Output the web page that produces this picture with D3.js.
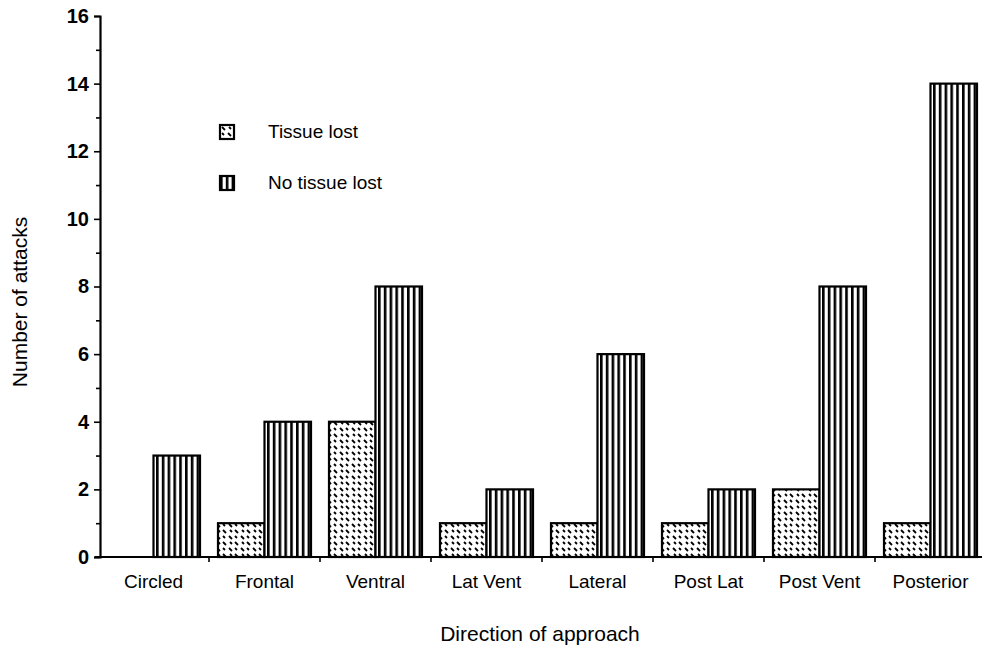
<!DOCTYPE html>
<html>
<head>
<meta charset="utf-8">
<script src="https://cdn.jsdelivr.net/npm/d3@7"></script>
<style>
  body { margin: 0; background: #fff; }
  svg { font-family: "Liberation Sans", Arial, sans-serif; }
</style>
</head>
<body>
<svg id="chart" width="982" height="647"></svg>
<script>
// data
var categories = ["Circled", "Frontal", "Ventral", "Lat Vent", "Lateral", "Post Lat", "Post Vent", "Posterior"];
var series = ["Tissue lost", "No tissue lost"];
var tissueLost = [0, 1, 4, 1, 1, 1, 2, 1];
var noTissueLost = [3, 4, 8, 2, 6, 2, 8, 14];
var yTicks = [0, 2, 4, 6, 8, 10, 12, 14, 16];
var yMinorTicks = [1, 3, 5, 7, 9, 11, 13, 15];

var svg = d3.select("#chart");

var x = d3.scaleBand()
    .domain(categories)
    .range([98, 986]);

var xSub = d3.scaleBand()
    .domain(series)
    .range([9, x.bandwidth() - 9]);

var y = d3.scaleLinear()
    .domain([0, 16])
    .range([557, 16]);

// patterns
var defs = svg.append("defs");

var vert = defs.append("pattern")
    .attr("id", "vlines")
    .attr("patternUnits", "userSpaceOnUse")
    .attr("width", 5.8)
    .attr("height", 10);
vert.append("rect").attr("width", 5.8).attr("height", 10).attr("fill", "#fff");
vert.append("rect").attr("x", 0).attr("width", 2.6).attr("height", 10).attr("fill", "#000");

var dash = defs.append("pattern")
    .attr("id", "dashes")
    .attr("patternUnits", "userSpaceOnUse")
    .attr("width", 12)
    .attr("height", 12);
dash.append("rect").attr("width", 12).attr("height", 12).attr("fill", "#fff");
dash.append("path")
    .attr("d", "M2,2L5,5M8,8L11,11M9,2L11,4M2,8L4,10")
    .attr("stroke", "#000")
    .attr("stroke-width", 1.8)
    .attr("stroke-linecap", "butt");

var fills = { "Tissue lost": "url(#dashes)", "No tissue lost": "url(#vlines)" };

// bars
var rows = categories.map(function(c, i) {
    return { cat: c, values: [
        { key: "Tissue lost", value: tissueLost[i] },
        { key: "No tissue lost", value: noTissueLost[i] }
    ] };
});

svg.append("g")
    .selectAll("g")
    .data(rows)
    .enter()
    .append("g")
    .attr("transform", function(d) { return "translate(" + x(d.cat) + ",0)"; })
    .selectAll("rect")
    .data(function(d) { return d.values.filter(function(v) { return v.value > 0; }); })
    .enter()
    .append("rect")
    .attr("x", function(d) { return xSub(d.key); })
    .attr("y", function(d) { return y(d.value); })
    .attr("width", xSub.bandwidth())
    .attr("height", function(d) { return y(0) - y(d.value); })
    .attr("fill", function(d) { return fills[d.key]; })
    .attr("stroke", "#000")
    .attr("stroke-width", 2.2);

// y axis
var yAxis = svg.append("g")
    .attr("transform", "translate(100,0)")
    .call(d3.axisLeft(y).tickValues(yTicks).tickSize(6).tickPadding(5));

svg.append("g")
    .attr("transform", "translate(100,0)")
    .call(d3.axisLeft(y).tickValues(yMinorTicks).tickSize(4).tickFormat(""))
    .select(".domain").remove();

yAxis.selectAll("text")
    .style("font-size", "20px")
    .style("font-weight", "bold")
    .attr("fill", "#000");

svg.selectAll(".tick line").attr("stroke", "#000").attr("stroke-width", 1.6);
yAxis.select(".domain").attr("stroke", "#000").attr("stroke-width", 2.2);

// x axis
var xAxis = svg.append("g")
    .attr("transform", "translate(0," + y(0) + ")")
    .call(d3.axisBottom(x).tickSize(0).tickPadding(18));

xAxis.select(".domain").attr("d", "M95,0H982").attr("stroke", "#000").attr("stroke-width", 2.2);
xAxis.selectAll("text").style("font-size", "19px").attr("fill", "#000");

xAxis.selectAll(".boundary")
    .data(categories.slice(1))
    .enter()
    .append("line")
    .attr("class", "boundary")
    .attr("x1", function(d) { return x(d); })
    .attr("x2", function(d) { return x(d); })
    .attr("y1", 0)
    .attr("y2", 5)
    .attr("stroke", "#000")
    .attr("stroke-width", 1.6);

// axis titles
svg.append("text")
    .attr("x", 540)
    .attr("y", 641)
    .attr("text-anchor", "middle")
    .style("font-size", "21px")
    .text("Direction of approach");

svg.append("text")
    .attr("transform", "translate(27,302) rotate(-90)")
    .attr("text-anchor", "middle")
    .style("font-size", "21px")
    .text("Number of attacks");

// legend
var legend = svg.append("g")
    .selectAll("g")
    .data(series)
    .enter()
    .append("g")
    .attr("transform", function(d, i) { return "translate(220," + (125 + i * 51) + ")"; });

legend.append("rect")
    .attr("width", 14)
    .attr("height", 14)
    .attr("fill", function(d) { return fills[d]; })
    .attr("stroke", "#000")
    .attr("stroke-width", 2.2);

legend.append("text")
    .attr("x", 48)
    .attr("y", 13)
    .style("font-size", "19px")
    .text(function(d) { return d; });
</script>
</body>
</html>
